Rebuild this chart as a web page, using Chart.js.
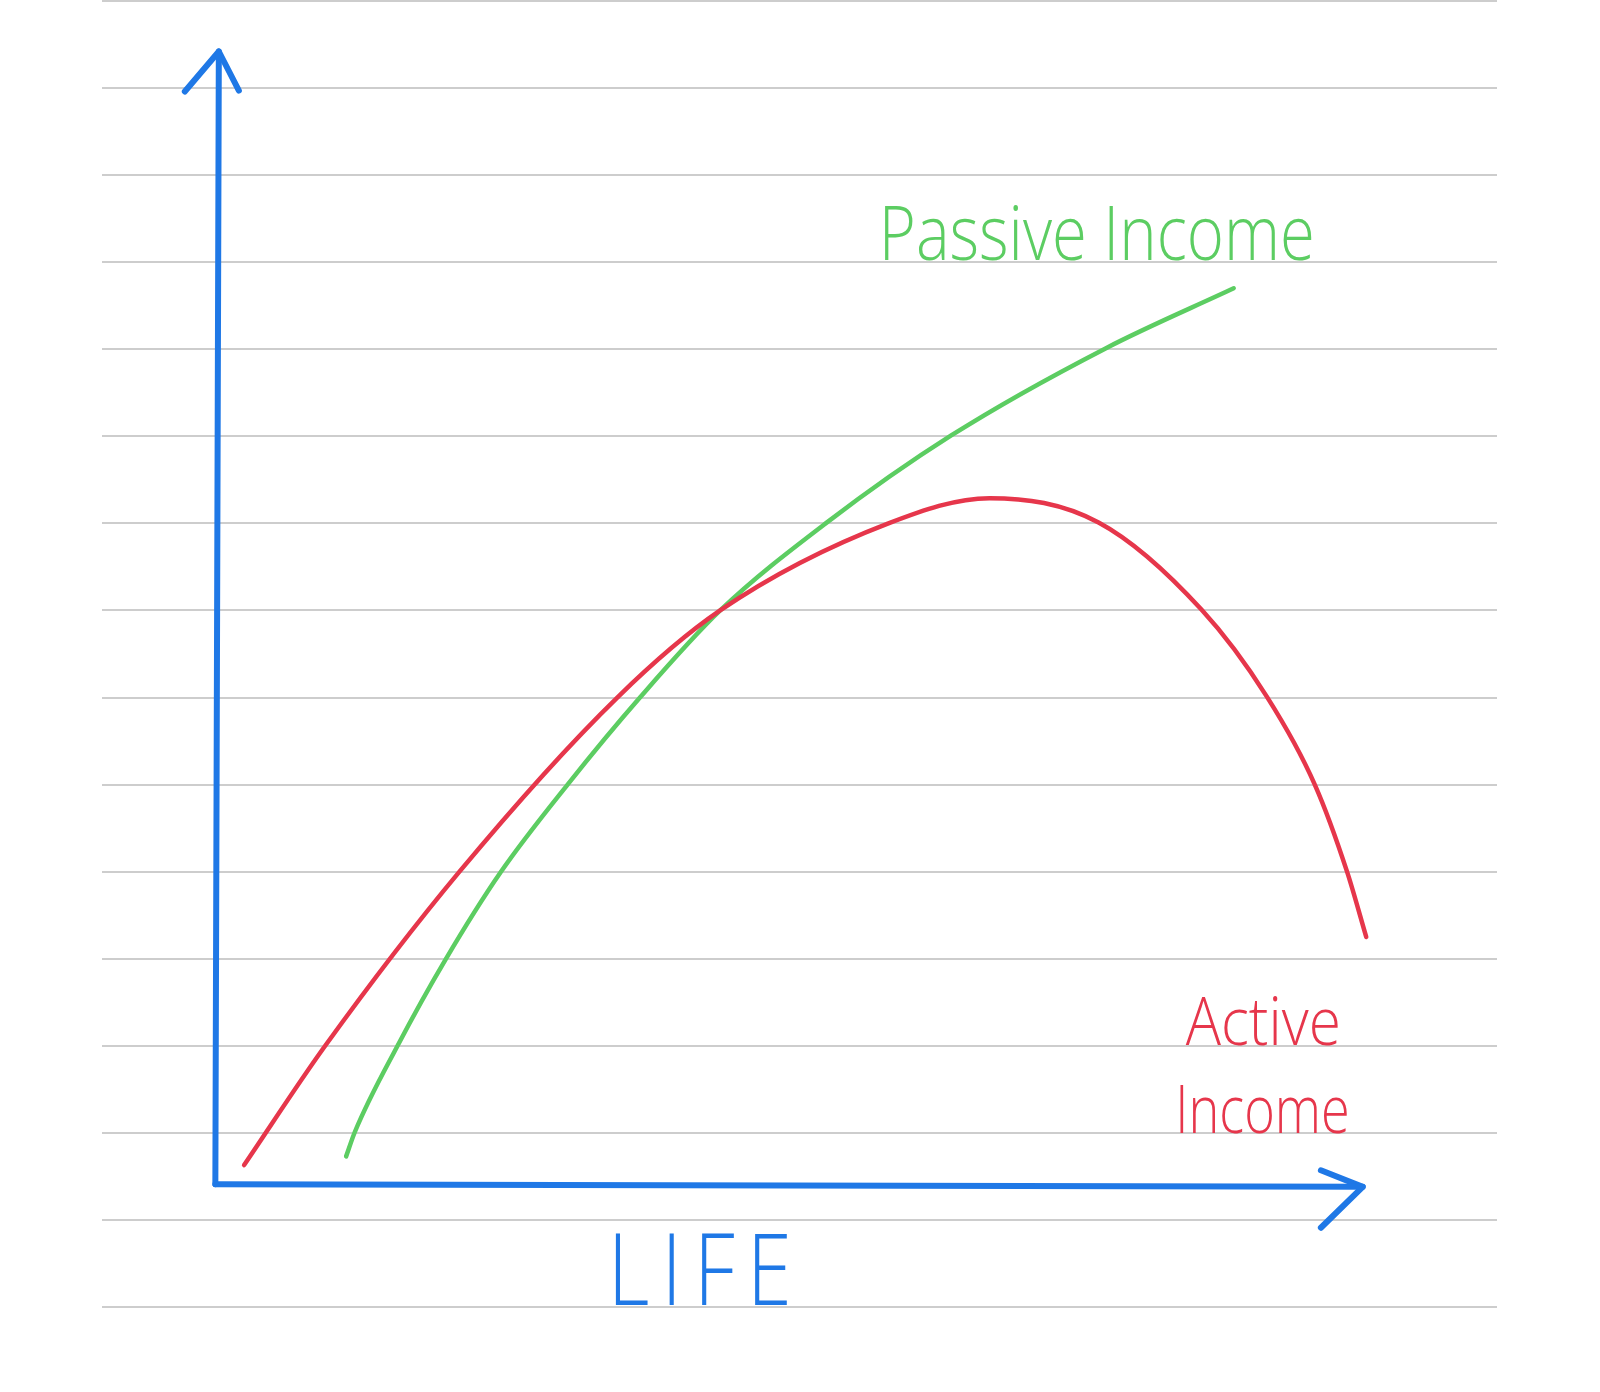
<!DOCTYPE html>
<html>
<head>
<meta charset="utf-8">
<script src="https://cdn.jsdelivr.net/npm/chart.js@4.4.1/dist/chart.umd.min.js"></script>
<style>
  body { margin: 0; background: #fff; }
  #wrap { width: 1600px; height: 1392px; position: relative; }
</style>
</head>
<body>
<div id="wrap"><canvas id="sketch"></canvas></div>
<script>
// values, in ruled-line units (x: life, y: income)
const activeX  = [1.63, 2.56, 4.10, 5.91, 7.09, 9.02, 10.18, 11.43, 12.61, 13.36, 13.91, 14.28, 14.50];
const activeY  = [1.63, 3.00, 5.00, 7.00, 8.00, 9.00, 9.29, 9.01, 8.01, 7.01, 6.00, 5.00, 4.25];
const passiveX = [2.80, 2.90, 3.39, 3.94, 4.57, 5.34, 6.17, 7.09, 8.30, 9.74, 11.51, 12.98];
const passiveY = [1.73, 2.01, 3.00, 3.99, 4.99, 6.00, 7.00, 8.00, 9.00, 10.01, 11.01, 11.70];

// hand drawn axes: shaft + arrow heads
const yAxisX = [1.30, 1.34];
const yAxisY = [1.41, 14.42];
const xAxisX = [1.30, 14.46];
const xAxisY = [1.41, 1.38];
const yHeadX = [0.95, 1.34, 1.57];
const yHeadY = [13.96, 14.42, 13.97];
const xHeadX = [13.98, 14.46, 13.98];
const xHeadY = [1.57, 1.38, 0.91];

const labelTexts = ['Passive Income', 'Active', 'Income', 'LIFE'];

const BLUE = '#1f78e6';
const GREEN = '#5ccd62';
const RED = '#e6364b';

function pts(xs, ys) {
  return xs.map((x, i) => ({ x: x, y: ys[i] }));
}

function lineSet(xs, ys, color, width, smooth) {
  return {
    data: pts(xs, ys),
    showLine: true,
    borderColor: color,
    borderWidth: width,
    pointRadius: 0,
    borderCapStyle: 'round',
    borderJoinStyle: 'round',
    cubicInterpolationMode: smooth ? 'monotone' : 'default',
    tension: 0
  };
}

// where the hand written words go (data units) and how big
const labelSpots = [
  { x: 8.91, y: 12.02, w: 5.0, size: 76, color: GREEN, spacing: 0 },
  { x: 12.43, y: 3.01, w: 1.78, size: 66, color: RED, spacing: 0 },
  { x: 12.31, y: 2.0, w: 2.0, size: 66, color: RED, spacing: 0 },
  { x: 5.80, y: 0.02, w: 2.25, size: 100, color: BLUE, spacing: 15 }
];

const handLabels = {
  id: 'handLabels',
  afterDatasetsDraw(chart) {
    const ctx = chart.ctx;
    const xs = chart.scales.x, ys = chart.scales.y;
    ctx.save();
    labelTexts.forEach((t, i) => {
      const s = labelSpots[i];
      const px = xs.getPixelForValue(s.x);
      const py = ys.getPixelForValue(s.y);
      const maxW = xs.getPixelForValue(s.x + s.w) - px;
      ctx.font = '300 ' + s.size + 'px "Open Sans", "DejaVu Sans", sans-serif';
      ctx.letterSpacing = s.spacing + 'px';
      ctx.fillStyle = s.color;
      ctx.textAlign = 'left';
      ctx.textBaseline = 'alphabetic';
      ctx.fillText(t, px, py, maxW);
    });
    ctx.restore();
  }
};

new Chart(document.getElementById('sketch'), {
  type: 'scatter',
  data: {
    datasets: [
      lineSet(activeX, activeY, RED, 4.5, true),
      lineSet(passiveX, passiveY, GREEN, 4.5, true),
      lineSet(yAxisX, yAxisY, BLUE, 6, false),
      lineSet(xAxisX, xAxisY, BLUE, 6, false),
      lineSet(yHeadX, yHeadY, BLUE, 6, false),
      lineSet(xHeadX, xHeadY, BLUE, 6, false)
    ]
  },
  options: {
    responsive: true,
    maintainAspectRatio: false,
    animation: false,
    layout: { padding: { left: 102, right: 103, top: 1, bottom: 85 } },
    plugins: { legend: { display: false }, tooltip: { enabled: false } },
    scales: {
      x: { type: 'linear', min: 0, max: 16, display: false },
      y: {
        type: 'linear', min: 0, max: 15,
        ticks: { display: false, stepSize: 1 },
        grid: { color: '#cdcdcd', lineWidth: 2, drawTicks: false },
        border: { display: false }
      }
    }
  },
  plugins: [handLabels]
});
</script>
</body>
</html>
